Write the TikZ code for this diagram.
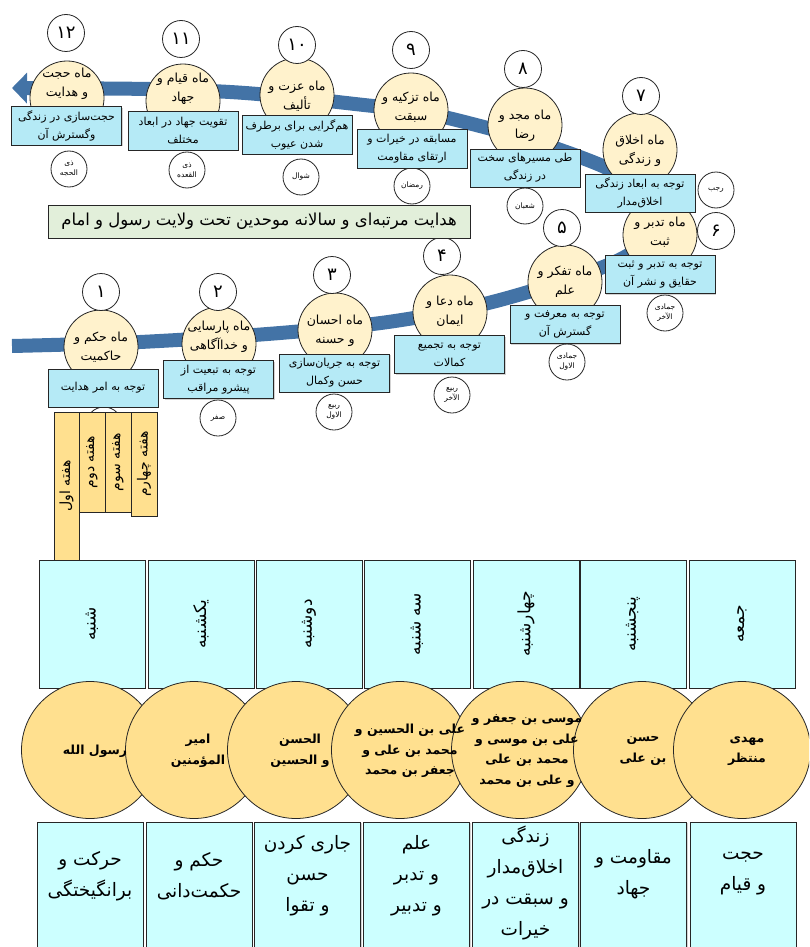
\documentclass[tikz,border=0pt]{standalone}
\usepackage{fontspec}
\usetikzlibrary{arrows.meta,shadows}
\TeXXeTstate=1
\newfontfamily\fafont[Script=Arabic]{DejaVu Sans}
\newcommand\fline[1]{\beginR#1\endR}

\definecolor{bandblue}{HTML}{4373A6}
\definecolor{cream}{HTML}{FFF2CC}
\definecolor{skybox}{HTML}{B5EAF6}
\definecolor{leaf}{HTML}{E2EFDA}
\definecolor{gold}{HTML}{FFE08F}
\definecolor{aqua}{HTML}{CCFFFF}
\definecolor{edge}{HTML}{262626}

\begin{document}
\begin{tikzpicture}[x=1pt,y=-1pt,
  band/.style={line width=14pt, draw=bandblue, -{Triangle[length=15pt,width=30pt]}},
  softshadow/.style={drop shadow={opacity=0.35, shadow xshift=1.2pt, shadow yshift=-1.2pt}},
  monthdisc/.style={circle, draw=edge, line width=0.8pt, fill=cream, minimum size=74pt, inner sep=0pt},
  monthtxt/.style={align=center, inner sep=0pt, font=\fafont\fontsize{12.5}{19}\selectfont},
  numdisc/.style={circle, draw=edge, line width=0.8pt, fill=white, minimum size=37pt, inner sep=0pt, font=\fafont\fontsize{18}{18}\selectfont},
  daydisc/.style={circle, draw=edge, line width=0.8pt, fill=white, minimum size=36pt, inner sep=0pt, align=center, font=\fafont\fontsize{7.5}{10}\selectfont},
  aimbox/.style={rectangle, draw=edge, line width=1pt, fill=skybox, minimum width=110pt, minimum height=38pt, inner sep=1pt, align=center, font=\fafont\fontsize{11}{18}\selectfont, softshadow},
  themebox/.style={rectangle, draw=edge, line width=1pt, fill=leaf, minimum width=422pt, minimum height=33pt, inner sep=0pt, font=\fafont\fontsize{16.5}{16.5}\selectfont},
  weekbar/.style={rectangle, draw=edge, line width=0.8pt, fill=gold, rotate=90, inner sep=0pt, anchor=center, font=\fafont\fontsize{14}{14}\selectfont, softshadow},
  daybox/.style={rectangle, draw=edge, line width=0.9pt, fill=aqua, minimum width=128pt, minimum height=106pt, rotate=90, inner sep=0pt, font=\fafont\fontsize{17}{17}\selectfont, softshadow},
  traitbox/.style={rectangle, draw=edge, line width=0.9pt, fill=aqua, minimum width=106pt, minimum height=138pt, inner sep=0pt, softshadow},
  traittxt/.style={align=center, inner sep=0pt, font=\fafont\fontsize{18.5}{31}\selectfont},
  imamdisc/.style={circle, draw=edge, line width=0.8pt, fill=gold, minimum size=137pt, inner sep=0pt},
  imamtxt/.style={align=center, inner sep=0pt, font=\fafont\bfseries\fontsize{12.5}{20.5}\selectfont}
]
\useasboundingbox (0,0) rectangle (809,947);
\clip (0,0) rectangle (809,947);

% the yearly path: from month 1 rightwards, turning at month 6/7, then leftwards to month 12
\draw[band] plot[smooth, tension=0.55] coordinates {
  (12,346) (140,342) (280,333) (395,321) (500,300) (615,262) (655,228)
  (640,190) (607,168) (540,143) (480,126) (420,112) (355,104) (290,97)
  (230,92) (150,89) (12,88)};

% month discs
\node[monthdisc] (m1)  at (101,347) {};
\node[monthdisc] (m2)  at (219,344) {};
\node[monthdisc] (m3)  at (335,330) {};
\node[monthdisc] (m4)  at (450,312) {};
\node[monthdisc] (m5)  at (565,282) {};
\node[monthdisc] (m6)  at (660,235) {};
\node[monthdisc] (m7)  at (640,150) {};
\node[monthdisc] (m8)  at (525,125) {};
\node[monthdisc] (m9)  at (411,110) {};
\node[monthdisc] (m10) at (297,95)  {};
\node[monthdisc] (m11) at (183,101) {};
\node[monthdisc] (m12) at (67,98)   {};

% month numbers
\node[numdisc] (n1)  at (101,292) {۱};
\node[numdisc] (n2)  at (218,292) {۲};
\node[numdisc] (n3)  at (332,275) {۳};
\node[numdisc] (n4)  at (442,256) {۴};
\node[numdisc] (n5)  at (562,228) {۵};
\node[numdisc] (n6)  at (716,231) {۶};
\node[numdisc] (n7)  at (641,96)  {۷};
\node[numdisc] (n8)  at (523,69)  {۸};
\node[numdisc] (n9)  at (411,50)  {۹};
\node[numdisc] (n10) at (297,45)  {۱۰};
\node[numdisc] (n11) at (181,39)  {۱۱};
\node[numdisc] (n12) at (66,33)   {۱۲};

% lunar month names
\node[daydisc] (d1)  at (104,425) {};
\node[daydisc] (d2)  at (218,418) {\fline{صفر}};
\node[daydisc] (d3)  at (334,412) {\fline{ربیع}\\\fline{الاول}};
\node[daydisc] (d4)  at (452,395) {\fline{ربیع}\\\fline{الآخر}};
\node[daydisc] (d5)  at (567,362) {\fline{جمادی}\\\fline{الاول}};
\node[daydisc] (d6)  at (665,313) {\fline{جمادی}\\\fline{الآخر}};
\node[daydisc] (d7)  at (716,190) {\fline{رجب}};
\node[daydisc] (d8)  at (525,206) {\fline{شعبان}};
\node[daydisc] (d9)  at (412,186) {\fline{رمضان}};
\node[daydisc] (d10) at (301,177) {\fline{شوال}};
\node[daydisc] (d11) at (187,170) {\fline{ذی}\\\fline{القعده}};
\node[daydisc] (d12) at (69,169)  {\fline{ذی}\\\fline{الحجه}};

% month aims
\node[aimbox] (b1)  at (103,388)   {\fline{توجه به امر هدایت}};
\node[aimbox] (b2)  at (218.5,379.5) {\fline{توجه به تبعیت از}\\\fline{پیشرو مراقب}};
\node[aimbox] (b3)  at (334.5,373) {\fline{توجه به جریان‌سازی}\\\fline{حسن وکمال}};
\node[aimbox] (b4)  at (449.5,354.5) {\fline{توجه به تجمیع}\\\fline{کمالات}};
\node[aimbox] (b5)  at (565,324.5) {\fline{توجه به معرفت و}\\\fline{گسترش آن}};
\node[aimbox] (b6)  at (660,274.5) {\fline{توجه به تدبر و ثبت}\\\fline{حقایق و نشر آن}};
\node[aimbox] (b7)  at (640,193)   {\fline{توجه به ابعاد زندگی}\\\fline{اخلاق‌مدار}};
\node[aimbox] (b8)  at (525,168)   {\fline{طی مسیرهای سخت}\\\fline{در زندگی}};
\node[aimbox] (b9)  at (412,149)   {\fline{مسابقه در خیرات و}\\\fline{ارتقای مقاومت}};
\node[aimbox] (b10) at (297,135)   {\fline{هم‌گرایی برای برطرف}\\\fline{شدن عیوب}};
\node[aimbox] (b11) at (183,131)   {\fline{تقویت جهاد در ابعاد}\\\fline{مختلف}};
\node[aimbox] (b12) at (66.5,126)  {\fline{حجت‌سازی در زندگی}\\\fline{وگسترش آن}};

% month titles
\node[monthtxt] (t1)  at (101,347) {\fline{ماه حکم و}\\\fline{حاکمیت}};
\node[monthtxt] (t2)  at (219,337) {\fline{ماه پارسایی}\\\fline{و خداآگاهی}};
\node[monthtxt] (t3)  at (335,331) {\fline{ماه احسان}\\\fline{و حسنه}};
\node[monthtxt] (t4)  at (450,311) {\fline{ماه دعا و}\\\fline{ایمان}};
\node[monthtxt] (t5)  at (565,282) {\fline{ماه تفکر و}\\\fline{علم}};
\node[monthtxt] (t6)  at (660,232) {\fline{ماه تدبر و}\\\fline{ثبت}};
\node[monthtxt] (t7)  at (640,151) {\fline{ماه اخلاق}\\\fline{و زندگی}};
\node[monthtxt] (t8)  at (525,126) {\fline{ماه مجد و}\\\fline{رضا}};
\node[monthtxt] (t9)  at (411,107) {\fline{ماه تزکیه و}\\\fline{سبقت}};
\node[monthtxt] (t10) at (297,96)  {\fline{ماه عزت و}\\\fline{تألیف}};
\node[monthtxt] (t11) at (183,89)  {\fline{ماه قیام و}\\\fline{جهاد}};
\node[monthtxt] (t12) at (67,84)   {\fline{ماه حجت}\\\fline{و هدایت}};

% theme of the year
\node[themebox] (theme) at (259,221.5) {\fline{هدایت مرتبه‌ای و سالانه موحدین تحت ولایت رسول و امام}};

% weeks of the month
\node[weekbar, minimum width=148pt, minimum height=25pt] (w1) at (66.5,486) {\fline{هفته اول}};
\node[weekbar, minimum width=100pt, minimum height=26pt] (w2) at (92,462)  {\fline{هفته دوم}};
\node[weekbar, minimum width=100pt, minimum height=26pt] (w3) at (118,462) {\fline{هفته سوم}};
\node[weekbar, minimum width=104pt, minimum height=26pt] (w4) at (144,464) {\fline{هفته چهارم}};

% days of the week
\node[daybox] (s1) at (92,624)  {\fline{شنبه}};
\node[daybox] (s2) at (201,624) {\fline{یکشنبه}};
\node[daybox] (s3) at (309,624) {\fline{دوشنبه}};
\node[daybox] (s4) at (417,624) {\fline{سه شنبه}};
\node[daybox] (s5) at (526,624) {\fline{چهارشنبه}};
\node[daybox] (s6) at (633,624) {\fline{پنجشنبه}};
\node[daybox] (s7) at (742,624) {\fline{جمعه}};

% traits of each day
\node[traitbox] (q1) at (90,891)  {};
\node[traitbox] (q2) at (199,891) {};
\node[traitbox] (q3) at (307.5,891) {};
\node[traitbox] (q4) at (416.5,891) {};
\node[traitbox] (q5) at (525.5,891) {};
\node[traitbox] (q6) at (633.5,891) {};
\node[traitbox] (q7) at (743,891) {};
\node[traittxt] (r1) at (90,876)  {\fline{حرکت و}\\\fline{برانگیختگی}};
\node[traittxt] (r2) at (199,876) {\fline{حکم و}\\\fline{حکمت‌دانی}};
\node[traittxt] (r3) at (307.5,876) {\fline{جاری کردن}\\\fline{حسن}\\\fline{و تقوا}};
\node[traittxt] (r4) at (416.5,876) {\fline{علم}\\\fline{و تدبر}\\\fline{و تدبیر}};
\node[traittxt] (r5) at (525.5,883) {\fline{زندگی}\\\fline{اخلاق‌مدار}\\\fline{و سبقت در}\\\fline{خیرات}};
\node[traittxt] (r6) at (633.5,874) {\fline{مقاومت و}\\\fline{جهاد}};
\node[traittxt] (r7) at (743,874) {\fline{حجت}\\\fline{و قیام}};

% the Prophet and the Imams for each day
\node[imamdisc] (i1) at (90,750)  {};
\node[imamdisc] (i2) at (194,750) {};
\node[imamdisc] (i3) at (296,750) {};
\node[imamdisc] (i4) at (400,750) {};
\node[imamdisc] (i5) at (520,750) {};
\node[imamdisc] (i6) at (642,750) {};
\node[imamdisc] (i7) at (742,750) {};
\node[imamtxt] (h1) at (95,751)  {\fline{رسول الله}};
\node[imamtxt] (h2) at (198,751) {\fline{امیر}\\\fline{المؤمنین}};
\node[imamtxt] (h3) at (300,751) {\fline{الحسن}\\\fline{و الحسین}};
\node[imamtxt] (h4) at (410,751) {\fline{علی بن الحسین و}\\\fline{محمد بن علی و}\\\fline{جعفر بن محمد}};
\node[imamtxt] (h5) at (527,751) {\fline{موسی بن جعفر و}\\\fline{علی بن موسی و}\\\fline{محمد بن علی}\\\fline{و علی بن محمد}};
\node[imamtxt] (h6) at (643,751) {\fline{حسن}\\\fline{بن علی}};
\node[imamtxt] (h7) at (747,751) {\fline{مهدی}\\\fline{منتظر}};
\end{tikzpicture}
\end{document}
